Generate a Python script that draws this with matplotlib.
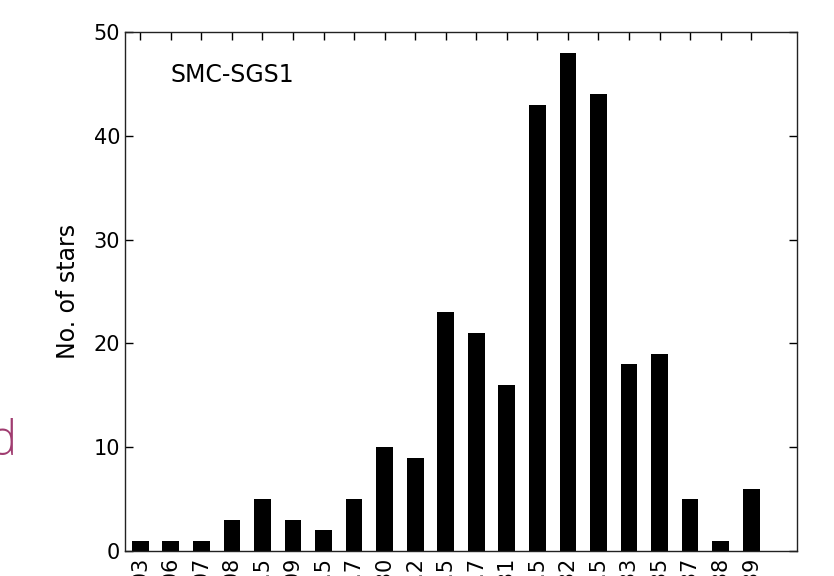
import matplotlib
matplotlib.use('Agg')
import matplotlib.pyplot as plt

# age bins (only the tail of each label is visible in the cropped slide)
labels = ['8.03', '8.06', '8.07', '8.08', '8.5', '8.09', '8.5', '8.7', '8.30', '8.2',
          '8.5', '8.7', '8.31', '8.5', '8.32', '8.5', '8.33', '8.35', '8.37', '8.38', '8.39']
counts = [1, 1, 1, 3, 5, 3, 2, 5, 10, 9, 23, 21, 16, 43, 48, 44, 18, 19, 5, 1, 6]

fig = plt.figure(figsize=(8.34, 5.76), dpi=100)
fig.patch.set_facecolor('white')

W, H = 834.0, 576.0
ax = fig.add_axes([125 / W, 1 - 551 / H, 672 / W, 519 / H])

pos = list(range(len(counts)))
ax.bar(pos, counts, width=0.55, color='black', align='center')

ax.set_xlim(-0.5, 21.5)
ax.set_ylim(0, 50)
ax.set_yticks([0, 10, 20, 30, 40, 50])
ax.set_xticks(pos)
ax.set_xticklabels(labels, rotation=90)
ax.tick_params(direction='in', top=True, right=True, length=6, labelsize=15, width=1)
ax.tick_params(axis='x', pad=4)
for s in ax.spines.values():
    s.set_linewidth(1)
    s.set_color('#222222')

ax.set_ylabel('No. of stars', fontsize=17, labelpad=10)
ax.text(0.067, 0.917, 'SMC-SGS1', transform=ax.transAxes, fontsize=17,
        va='center', ha='left')

# leftover slide text at the left edge
fig.text(-0.014, 1 - 443 / H, 'd', fontsize=34, color='#a03c70',
         family='Open Sans', weight='light', va='center', ha='left')

fig.savefig('out.png', dpi=100)
